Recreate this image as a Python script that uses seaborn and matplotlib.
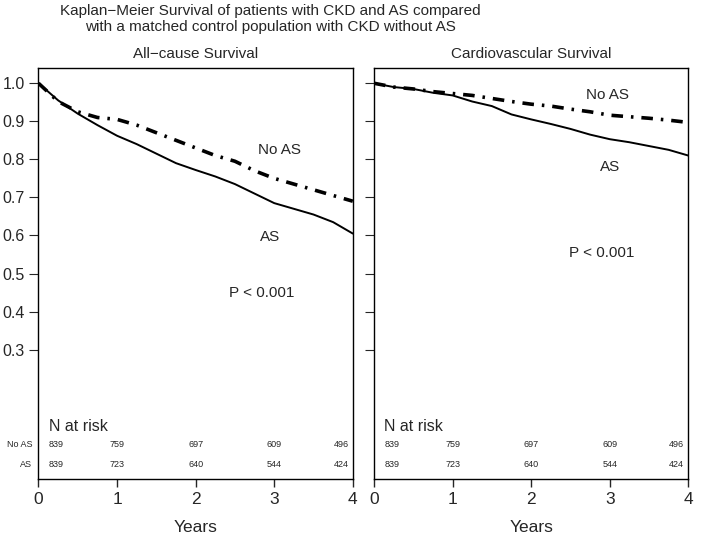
import matplotlib
matplotlib.use("Agg")
import matplotlib.pyplot as plt
import seaborn as sns
import pandas as pd

sns.set_theme(style="ticks")
plt.rcParams['font.family'] = ['Liberation Sans', 'DejaVu Sans']

# survival curves
years = [0, 0.25, 0.5, 0.75, 1, 1.25, 1.5, 1.75, 2, 2.25, 2.5, 2.75, 3, 3.25, 3.5, 3.75, 4]
allcause_as = [1.0, 0.955, 0.92, 0.89, 0.862, 0.84, 0.815, 0.79, 0.772, 0.755, 0.735, 0.71, 0.685, 0.67, 0.655, 0.635, 0.605]
allcause_noas = [1.0, 0.952, 0.925, 0.91, 0.905, 0.89, 0.87, 0.85, 0.83, 0.81, 0.795, 0.77, 0.75, 0.735, 0.72, 0.705, 0.69]
cv_as = [1.0, 0.99, 0.985, 0.975, 0.968, 0.952, 0.94, 0.918, 0.905, 0.893, 0.88, 0.865, 0.853, 0.845, 0.835, 0.825, 0.81]
cv_noas = [1.0, 0.99, 0.985, 0.978, 0.973, 0.968, 0.96, 0.952, 0.945, 0.94, 0.932, 0.925, 0.916, 0.912, 0.908, 0.903, 0.897]

# numbers at risk
risk_years = [0, 1, 2, 3, 4]
risk_noas = [839, 759, 697, 609, 496]
risk_as = [839, 723, 640, 544, 424]

panel_titles = ["All\u2212cause Survival", "Cardiovascular Survival"]
yticks = [0.3, 0.4, 0.5, 0.6, 0.7, 0.8, 0.9, 1.0]

fig = plt.figure(figsize=(7.09, 5.36), dpi=100)
fig.text(0.381, 0.993, "Kaplan\u2212Meier Survival of patients with CKD and AS compared\nwith a matched control population with CKD without AS",
         ha='center', va='top', fontsize=11, linespacing=1.2)

panels = [
    (0.0543, allcause_as, allcause_noas, (3.07, 0.825), (2.95, 0.595), (2.84, 0.448)),
    (0.5275, cv_as, cv_noas, (2.97, 0.97), (3.0, 0.78), (2.9, 0.555)),
]

for i, (x0, s_as, s_noas, pos_noas, pos_as, pos_p) in enumerate(panels):
    ax = fig.add_axes([x0, 0.1063, 0.4433, 0.7668])
    df = pd.DataFrame({'Years': years + years,
                       'Survival': s_as + s_noas,
                       'group': ['AS'] * len(years) + ['No AS'] * len(years)})
    sns.lineplot(data=df[df.group == 'AS'], x='Years', y='Survival', color='black', lw=1.4, ax=ax)
    sns.lineplot(data=df[df.group == 'No AS'], x='Years', y='Survival', color='black', lw=2.6,
                 linestyle=(0, (3.2, 2.2, 0.7, 2.2)), ax=ax)
    ax.set_xlim(0, 4)
    ax.set_ylim(-0.04, 1.04)
    ax.set_xticks([0, 1, 2, 3, 4])
    ax.set_yticks(yticks)
    ax.tick_params(axis='x', labelsize=12.5, length=6, width=1, direction='out', pad=3)
    ax.tick_params(axis='y', labelsize=11.5, length=6.5, width=0.8, direction='out', pad=3.5)
    if i == 1:
        ax.set_yticklabels([])
    ax.set_ylabel('')
    ax.set_xlabel('Years', fontsize=12.5, labelpad=10)
    for sp in ax.spines.values():
        sp.set_visible(True)
        sp.set_linewidth(1.0)
        sp.set_color('black')
    ax.set_title(panel_titles[i], fontsize=11, pad=7)

    ax.text(pos_noas[0], pos_noas[1], 'No AS', ha='center', va='center', fontsize=11)
    ax.text(pos_as[0], pos_as[1], 'AS', ha='center', va='center', fontsize=11)
    ax.text(pos_p[0], pos_p[1], 'P < 0.001', ha='center', va='center', fontsize=11)

    # number at risk table inside the panel
    ax.text(0.13, 0.098, 'N at risk', ha='left', va='center', fontsize=11.5)
    for j, t in enumerate(risk_years):
        xt = min(max(t, 0.23), 3.85)
        ax.text(xt, 0.052, str(risk_noas[j]), ha='center', va='center', fontsize=6.5)
        ax.text(xt, -0.001, str(risk_as[j]), ha='center', va='center', fontsize=6.5)
    if i == 0:
        ax.text(-0.08, 0.052, 'No AS', ha='right', va='center', fontsize=6.5)
        ax.text(-0.08, -0.001, 'AS', ha='right', va='center', fontsize=6.5)

fig.savefig('out.png', dpi=100)
